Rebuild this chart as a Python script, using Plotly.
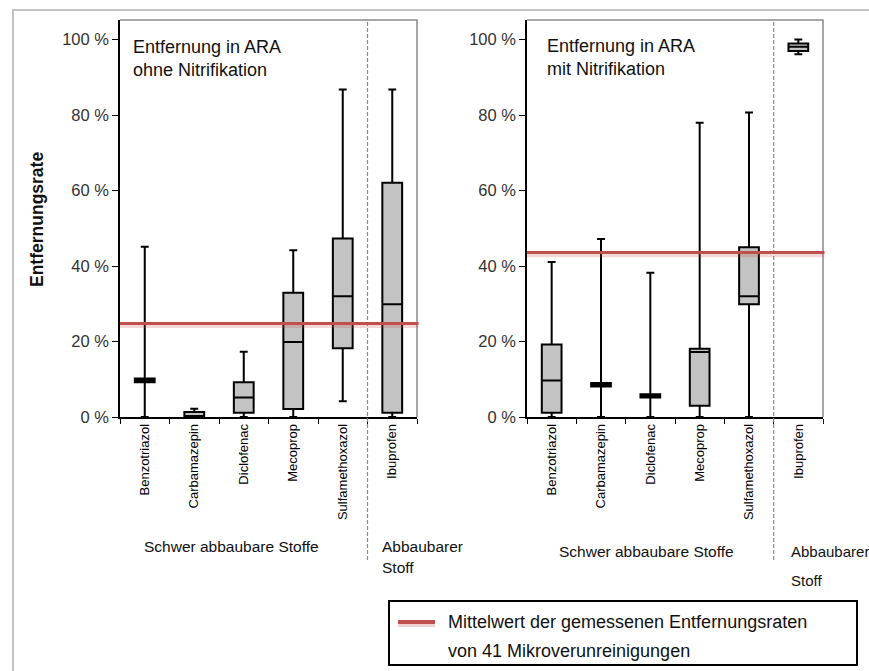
import plotly.graph_objects as go

# Substances and removal-rate statistics (percent)
substances = ["Benzotriazol", "Carbamazepin", "Diclofenac", "Mecoprop", "Sulfamethoxazol", "Ibuprofen"]

# WWTP without nitrification
ohne_lower = [0.0, 0.0, 0.0, 0.0, 4.2, 0.0]
ohne_q1 = [9.2, 0.0, 1.1, 2.1, 18.2, 1.1]
ohne_median = [9.7, 0.1, 5.2, 19.9, 32.0, 29.9]
ohne_q3 = [10.2, 1.3, 9.2, 32.9, 47.3, 62.1]
ohne_upper = [45.1, 2.2, 17.3, 44.2, 86.8, 86.8]
ohne_mean = 24.8

# WWTP with nitrification
mit_lower = [0.0, 0.0, 0.0, 0.0, 0.0, 96.1]
mit_q1 = [1.1, 8.1, 5.2, 3.0, 29.9, 97.0]
mit_median = [9.7, 8.6, 5.6, 17.2, 32.0, 98.1]
mit_q3 = [19.2, 9.0, 6.0, 18.1, 45.0, 99.0]
mit_upper = [41.1, 47.2, 38.2, 78.0, 80.7, 100.0]
mit_mean = 43.6

y_ticks = [0, 20, 40, 60, 80, 100]
y_tick_text = ["0 %", "20 %", "40 %", "60 %", "80 %", "100 %"]

W, H = 869, 671
NARROW = "Liberation Sans Narrow, Arial Narrow, Liberation Sans, Arial, sans-serif"
REGULAR = "Liberation Sans, Arial, sans-serif"
BOX_FILL = "#c3c3c3"
RED = "#c0504d"


def px(x):
    return x / W


def py(y):
    return 1 - y / H


fig = go.Figure()

panels = [
    ("x", "y", ohne_lower, ohne_q1, ohne_median, ohne_q3, ohne_upper),
    ("x2", "y2", mit_lower, mit_q1, mit_median, mit_q3, mit_upper),
]
for xa, ya, lo, q1, med, q3, up in panels:
    fig.add_trace(go.Box(
        x=substances, q1=q1, median=med, q3=q3, lowerfence=lo, upperfence=up,
        xaxis=xa, yaxis=ya, width=0.4, whiskerwidth=0.4, boxpoints=False,
        fillcolor=BOX_FILL, line=dict(color="black", width=2),
        showlegend=False, hoverinfo="skip",
    ))

y_dom = [py(417), py(20)]
axis_common = dict(
    type="category", categoryorder="array", categoryarray=substances,
    tickson="boundaries", ticks="outside", ticklen=5, tickwidth=1, tickcolor="black",
    showline=True, linecolor="black", linewidth=1.5, showgrid=False, zeroline=False,
    tickangle=-90, tickfont=dict(family=NARROW, size=13, color="black"),
    range=[-0.5, 5.5], automargin=False,
)
yaxis_common = dict(
    range=[0, 105.2], tickvals=y_ticks, ticktext=y_tick_text,
    ticks="outside", ticklen=6, tickwidth=1, tickcolor="black",
    showline=True, linecolor="black", linewidth=1.5, showgrid=False, zeroline=False,
    tickfont=dict(family=NARROW, size=16.5, color="#333333"), automargin=False,
    domain=y_dom,
)

fig.update_layout(
    width=W, height=H, margin=dict(l=0, r=0, t=0, b=0),
    paper_bgcolor="white", plot_bgcolor="white",
    xaxis=dict(domain=[px(120), px(417)], anchor="y", **axis_common),
    xaxis2=dict(domain=[px(527), px(823)], anchor="y2", **axis_common),
    yaxis=dict(anchor="x", **yaxis_common),
    yaxis2=dict(anchor="x2", **yaxis_common),
)

shapes = []
# outer frame (left and top edges)
shapes.append(dict(type="path", xref="paper", yref="paper",
                   path=f"M {px(13)},{py(671)} L {px(13)},{py(10)} L {px(869)},{py(10)}",
                   line=dict(color="#c4c4c4", width=2)))

for xa, ya, mean in [("x", "y", ohne_mean), ("x2", "y2", mit_mean)]:
    # top and right plot border
    shapes.append(dict(type="path", xref=f"{xa} domain", yref=f"{ya} domain",
                       path="M 0,1 L 1,1 L 1,0", line=dict(color="#8a8a8a", width=1.5)))
    # separator between hard-to-degrade and degradable substance
    shapes.append(dict(type="line", xref=xa, yref="paper", x0=4.5, x1=4.5,
                       y0=py(560), y1=py(21), line=dict(color="#8a8a8a", width=1.2, dash="4px,2px")))
    # mean removal rate of 41 micropollutants
    shapes.append(dict(type="line", xref=f"{xa} domain", yref=ya, x0=0, x1=1.005,
                       y0=mean - 0.45, y1=mean - 0.45,
                       line=dict(color="rgba(192,80,77,0.22)", width=6)))
    shapes.append(dict(type="line", xref=f"{xa} domain", yref=ya, x0=0, x1=1.005,
                       y0=mean, y1=mean, line=dict(color=RED, width=3)))

# legend box
shapes.append(dict(type="rect", xref="paper", yref="paper",
                   x0=px(389), x1=px(857), y0=py(665), y1=py(601),
                   line=dict(color="black", width=2), fillcolor="white"))
shapes.append(dict(type="line", xref="paper", yref="paper",
                   x0=px(398), x1=px(435), y0=py(624), y1=py(624),
                   line=dict(color="rgba(192,80,77,0.25)", width=6)))
shapes.append(dict(type="line", xref="paper", yref="paper",
                   x0=px(398), x1=px(435), y0=py(622), y1=py(622),
                   line=dict(color=RED, width=4)))
fig.update_layout(shapes=shapes)

ann = []


def text(x, y, s, size, family=REGULAR, xanchor="left", **kw):
    ann.append(dict(xref="paper", yref="paper", x=px(x), y=py(y), text=s,
                    showarrow=False, xanchor=xanchor, yanchor="middle", align="left",
                    font=dict(family=family, size=size, color="#111111"), **kw))


text(131, 58, "Entfernung in ARA<br>ohne Nitrifikation", 18)
text(545, 57, "Entfernung in ARA<br>mit Nitrifikation", 18)
text(37, 220, "<b>Entfernungsrate</b>", 17.5, xanchor="center", textangle=-90)

text(232, 546, "Schwer abbaubare Stoffe", 15.5, family=NARROW, xanchor="center")
text(380, 546, "Abbaubarer", 15.5, family=NARROW)
text(380, 567, "Stoff", 15.5, family=NARROW)
text(646, 551, "Schwer abbaubare Stoffe", 15.5, family=NARROW, xanchor="center")
text(789, 551, "Abbaubarer", 15, family=NARROW)
text(789, 580, "Stoff", 15, family=NARROW)

text(446, 622, "Mittelwert der gemessenen Entfernungsraten", 18)
text(446, 651, "von 41 Mikroverunreinigungen", 18)

fig.update_layout(annotations=ann)

fig.write_html("out.html")
